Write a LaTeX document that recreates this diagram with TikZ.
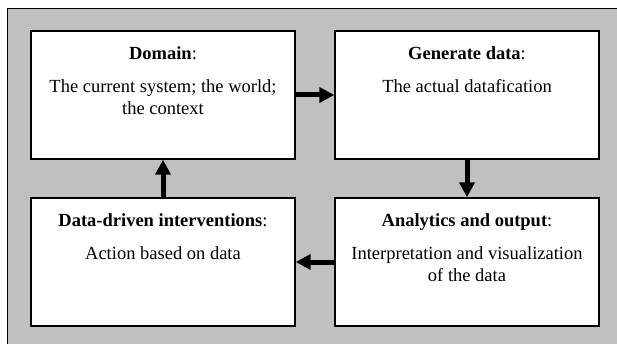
\documentclass[tikz,border=0pt]{standalone}
\usepackage{fontspec}
\setmainfont{Liberation Serif}
\usetikzlibrary{arrows.meta}
\definecolor{panelgray}{RGB}{192,192,192}
\begin{document}
\begin{tikzpicture}[x=1pt,y=-1pt,
  panel/.style={draw=black,line width=1.4pt,fill=white,minimum width=264pt,minimum height=128pt,inner sep=0pt},
  heading/.style={anchor=base,inner sep=0pt,font=\fontsize{18.5}{22}\selectfont},
  body/.style={anchor=north,inner sep=0pt,align=center,font=\fontsize{18.5}{22}\selectfont},
  flow/.style={line width=5pt,-{Triangle[length=15pt,width=15pt]}}]
\useasboundingbox (0,0) rectangle (617,344);
\clip (0,0) rectangle (617,344);
% grey backdrop with its frame
\draw[fill=panelgray,line width=1pt] (7,9) rectangle (700,420);
% the four stages
\node[panel] (dom) at (163,95) {};
\node[panel] (gen) at (467,95) {};
\node[panel] (int) at (163,262) {};
\node[panel] (ana) at (467,262) {};
% headings
\node[heading] (domh) at ([yshift=-29pt]dom.north) {\textbf{Domain}:};
\node[heading] (genh) at ([yshift=-29pt]gen.north) {\textbf{Generate data}:};
\node[heading] (inth) at ([yshift=-29pt]int.north) {\textbf{Data-driven interventions}:};
\node[heading] (anah) at ([yshift=-29pt]ana.north) {\textbf{Analytics and output}:};
% descriptions
\node[body] (domb) at ([yshift=-49pt]dom.north) {The current system; the world;\\the context};
\node[body] (genb) at ([yshift=-49pt]gen.north) {The actual datafication};
\node[body] (intb) at ([yshift=-49pt]int.north) {Action based on data};
\node[body] (anab) at ([yshift=-49pt]ana.north) {Interpretation and visualization\\of the data};
% cycle
\draw[flow] (dom.east) -- (gen.west);
\draw[flow] (gen.south) -- (ana.north);
\draw[flow] (ana.west) -- (int.east);
\draw[flow] (int.north) -- (dom.south);
\end{tikzpicture}
\end{document}
